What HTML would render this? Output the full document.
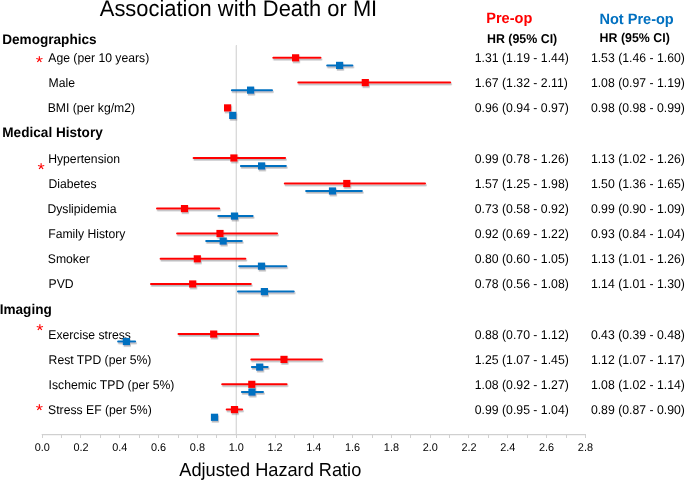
<!DOCTYPE html><html><head><meta charset="utf-8"><style>
html,body{margin:0;padding:0;background:#fff;width:685px;height:480px;overflow:hidden}
svg{display:block;font-family:"Liberation Sans",sans-serif;will-change:transform}svg text{text-rendering:geometricPrecision}
</style></head><body>
<svg width="685" height="480" viewBox="0 0 685 480">
<defs><filter id="sh" x="-50%" y="-50%" width="200%" height="200%"><feDropShadow dx="0.8" dy="1.6" stdDeviation="0.7" flood-color="#606468" flood-opacity="0.45"/></filter></defs>
<text transform="translate(99.80 16.00) scale(1 1.030)" font-size="21.90">Association with Death or MI</text>
<text transform="translate(486.20 23.20) scale(1 1.030)" font-size="14.55" font-weight="bold" fill="#ff0000">Pre-op</text>
<text transform="translate(599.40 24.20) scale(1 1.030)" font-size="14.55" font-weight="bold" fill="#0070c0">Not Pre-op</text>
<text transform="translate(487.00 43.20) scale(1 1.030)" font-size="12.40" font-weight="bold">HR (95% CI)</text>
<text transform="translate(599.60 42.20) scale(1 1.030)" font-size="12.40" font-weight="bold">HR (95% CI)</text>
<text transform="translate(2.20 43.90) scale(1 1.030)" font-size="13.60" font-weight="bold">Demographics</text>
<text transform="translate(2.30 136.60) scale(1 1.030)" font-size="13.60" font-weight="bold">Medical History</text>
<text transform="translate(-0.30 314.10) scale(1 1.030)" font-size="13.60" font-weight="bold">Imaging</text>
<line x1="235.5" y1="45.5" x2="235.5" y2="434" stroke="#f1f1f1" stroke-width="1"/>
<line x1="236.5" y1="45" x2="236.5" y2="434.5" stroke="#dadada" stroke-width="1"/>
<line x1="42.20" y1="435.5" x2="585.40" y2="435.5" stroke="#f4f4f4" stroke-width="1"/>
<line x1="41.70" y1="434.5" x2="585.90" y2="434.5" stroke="#d0d0d0" stroke-width="1"/>
<line x1="42.50" y1="434" x2="42.50" y2="438" stroke="#d0d0d0" stroke-width="1"/>
<line x1="61.50" y1="434" x2="61.50" y2="438" stroke="#d0d0d0" stroke-width="1"/>
<line x1="80.50" y1="434" x2="80.50" y2="438" stroke="#d0d0d0" stroke-width="1"/>
<line x1="100.50" y1="434" x2="100.50" y2="438" stroke="#d0d0d0" stroke-width="1"/>
<line x1="119.50" y1="434" x2="119.50" y2="438" stroke="#d0d0d0" stroke-width="1"/>
<line x1="139.50" y1="434" x2="139.50" y2="438" stroke="#d0d0d0" stroke-width="1"/>
<line x1="158.50" y1="434" x2="158.50" y2="438" stroke="#d0d0d0" stroke-width="1"/>
<line x1="178.50" y1="434" x2="178.50" y2="438" stroke="#d0d0d0" stroke-width="1"/>
<line x1="197.50" y1="434" x2="197.50" y2="438" stroke="#d0d0d0" stroke-width="1"/>
<line x1="216.50" y1="434" x2="216.50" y2="438" stroke="#d0d0d0" stroke-width="1"/>
<line x1="236.50" y1="434" x2="236.50" y2="438" stroke="#d0d0d0" stroke-width="1"/>
<line x1="255.50" y1="434" x2="255.50" y2="438" stroke="#d0d0d0" stroke-width="1"/>
<line x1="275.50" y1="434" x2="275.50" y2="438" stroke="#d0d0d0" stroke-width="1"/>
<line x1="294.50" y1="434" x2="294.50" y2="438" stroke="#d0d0d0" stroke-width="1"/>
<line x1="313.50" y1="434" x2="313.50" y2="438" stroke="#d0d0d0" stroke-width="1"/>
<line x1="333.50" y1="434" x2="333.50" y2="438" stroke="#d0d0d0" stroke-width="1"/>
<line x1="352.50" y1="434" x2="352.50" y2="438" stroke="#d0d0d0" stroke-width="1"/>
<line x1="372.50" y1="434" x2="372.50" y2="438" stroke="#d0d0d0" stroke-width="1"/>
<line x1="391.50" y1="434" x2="391.50" y2="438" stroke="#d0d0d0" stroke-width="1"/>
<line x1="410.50" y1="434" x2="410.50" y2="438" stroke="#d0d0d0" stroke-width="1"/>
<line x1="430.50" y1="434" x2="430.50" y2="438" stroke="#d0d0d0" stroke-width="1"/>
<line x1="449.50" y1="434" x2="449.50" y2="438" stroke="#d0d0d0" stroke-width="1"/>
<line x1="468.50" y1="434" x2="468.50" y2="438" stroke="#d0d0d0" stroke-width="1"/>
<line x1="488.50" y1="434" x2="488.50" y2="438" stroke="#d0d0d0" stroke-width="1"/>
<line x1="507.50" y1="434" x2="507.50" y2="438" stroke="#d0d0d0" stroke-width="1"/>
<line x1="527.50" y1="434" x2="527.50" y2="438" stroke="#d0d0d0" stroke-width="1"/>
<line x1="546.50" y1="434" x2="546.50" y2="438" stroke="#d0d0d0" stroke-width="1"/>
<line x1="566.50" y1="434" x2="566.50" y2="438" stroke="#d0d0d0" stroke-width="1"/>
<line x1="585.50" y1="434" x2="585.50" y2="438" stroke="#d0d0d0" stroke-width="1"/>
<text transform="translate(42.20 451.40) scale(1 1.030)" font-size="10.90" text-anchor="middle">0.0</text>
<text transform="translate(81.00 451.40) scale(1 1.030)" font-size="10.90" text-anchor="middle">0.2</text>
<text transform="translate(119.80 451.40) scale(1 1.030)" font-size="10.90" text-anchor="middle">0.4</text>
<text transform="translate(158.60 451.40) scale(1 1.030)" font-size="10.90" text-anchor="middle">0.6</text>
<text transform="translate(197.40 451.40) scale(1 1.030)" font-size="10.90" text-anchor="middle">0.8</text>
<text transform="translate(236.20 451.40) scale(1 1.030)" font-size="10.90" text-anchor="middle">1.0</text>
<text transform="translate(275.00 451.40) scale(1 1.030)" font-size="10.90" text-anchor="middle">1.2</text>
<text transform="translate(313.80 451.40) scale(1 1.030)" font-size="10.90" text-anchor="middle">1.4</text>
<text transform="translate(352.60 451.40) scale(1 1.030)" font-size="10.90" text-anchor="middle">1.6</text>
<text transform="translate(391.40 451.40) scale(1 1.030)" font-size="10.90" text-anchor="middle">1.8</text>
<text transform="translate(430.20 451.40) scale(1 1.030)" font-size="10.90" text-anchor="middle">2.0</text>
<text transform="translate(469.00 451.40) scale(1 1.030)" font-size="10.90" text-anchor="middle">2.2</text>
<text transform="translate(507.80 451.40) scale(1 1.030)" font-size="10.90" text-anchor="middle">2.4</text>
<text transform="translate(546.60 451.40) scale(1 1.030)" font-size="10.90" text-anchor="middle">2.6</text>
<text transform="translate(585.40 451.40) scale(1 1.030)" font-size="10.90" text-anchor="middle">2.8</text>
<text transform="translate(179.30 475.50) scale(1 1.030)" font-size="18.20">Adjusted Hazard Ratio</text>
<text transform="translate(48.30 61.90) scale(1 1.030)" font-size="12.20">Age (per 10 years)</text>
<text transform="translate(474.80 61.80) scale(1 1.035)" font-size="12.25">1.31 (1.19 - 1.44)</text>
<text transform="translate(590.90 61.80) scale(1 1.035)" font-size="12.25">1.53 (1.46 - 1.60)</text>
<text transform="translate(39.35 67.72) scale(1.09 1)" font-size="17" text-anchor="middle" fill="#ff0000">*</text>
<g filter="url(#sh)">
<rect x="272.30" y="56.85" width="49.20" height="2.00" rx="1" fill="#ff0000"/>
<rect x="292.00" y="54.25" width="7.20" height="7.20" fill="#ff0000"/>
</g>
<g filter="url(#sh)">
<rect x="326.20" y="64.40" width="27.20" height="2.00" rx="1" fill="#0070c0"/>
<rect x="336.00" y="61.80" width="7.20" height="7.20" fill="#0070c0"/>
</g>
<text transform="translate(48.60 87.04) scale(1 1.030)" font-size="12.20">Male</text>
<text transform="translate(474.80 86.74) scale(1 1.035)" font-size="12.25">1.67 (1.32 - 2.11)</text>
<text transform="translate(590.90 86.74) scale(1 1.035)" font-size="12.25">1.08 (0.97 - 1.19)</text>
<g filter="url(#sh)">
<rect x="297.30" y="81.60" width="153.90" height="2.00" rx="1" fill="#ff0000"/>
<rect x="361.70" y="79.00" width="7.20" height="7.20" fill="#ff0000"/>
</g>
<g filter="url(#sh)">
<rect x="230.90" y="89.15" width="42.10" height="2.00" rx="1" fill="#0070c0"/>
<rect x="247.00" y="86.55" width="7.20" height="7.20" fill="#0070c0"/>
</g>
<text transform="translate(47.70 112.18) scale(1 1.030)" font-size="12.20">BMI (per kg/m2)</text>
<text transform="translate(474.80 111.88) scale(1 1.035)" font-size="12.25">0.96 (0.94 - 0.97)</text>
<text transform="translate(590.90 111.88) scale(1 1.035)" font-size="12.25">0.98 (0.98 - 0.99)</text>
<g filter="url(#sh)">
<rect x="224.00" y="104.30" width="7.20" height="7.20" fill="#ff0000"/>
</g>
<g filter="url(#sh)">
<rect x="229.15" y="111.80" width="7.20" height="7.20" fill="#0070c0"/>
</g>
<text transform="translate(48.20 162.96) scale(1 1.030)" font-size="12.20">Hypertension</text>
<text transform="translate(474.80 162.76) scale(1 1.035)" font-size="12.25">0.99 (0.78 - 1.26)</text>
<text transform="translate(590.90 162.76) scale(1 1.035)" font-size="12.25">1.13 (1.02 - 1.26)</text>
<text transform="translate(41.10 174.72) scale(1.09 1)" font-size="17" text-anchor="middle" fill="#ff0000">*</text>
<g filter="url(#sh)">
<rect x="192.60" y="157.00" width="93.50" height="2.00" rx="1" fill="#ff0000"/>
<rect x="230.30" y="154.40" width="7.20" height="7.20" fill="#ff0000"/>
</g>
<g filter="url(#sh)">
<rect x="239.90" y="164.95" width="47.00" height="2.00" rx="1" fill="#0070c0"/>
<rect x="258.00" y="162.35" width="7.20" height="7.20" fill="#0070c0"/>
</g>
<text transform="translate(48.40 187.60) scale(1 1.030)" font-size="12.20">Diabetes</text>
<text transform="translate(474.80 187.70) scale(1 1.035)" font-size="12.25">1.57 (1.25 - 1.98)</text>
<text transform="translate(590.90 187.70) scale(1 1.035)" font-size="12.25">1.50 (1.36 - 1.65)</text>
<g filter="url(#sh)">
<rect x="283.80" y="182.50" width="142.20" height="2.00" rx="1" fill="#ff0000"/>
<rect x="343.20" y="179.90" width="7.20" height="7.20" fill="#ff0000"/>
</g>
<g filter="url(#sh)">
<rect x="305.10" y="190.00" width="57.80" height="2.00" rx="1" fill="#0070c0"/>
<rect x="328.90" y="187.40" width="7.20" height="7.20" fill="#0070c0"/>
</g>
<text transform="translate(47.40 212.74) scale(1 1.030)" font-size="12.20">Dyslipidemia</text>
<text transform="translate(474.80 212.94) scale(1 1.035)" font-size="12.25">0.73 (0.58 - 0.92)</text>
<text transform="translate(590.90 212.94) scale(1 1.035)" font-size="12.25">0.99 (0.90 - 1.09)</text>
<g filter="url(#sh)">
<rect x="156.00" y="207.60" width="64.20" height="2.00" rx="1" fill="#ff0000"/>
<rect x="180.90" y="205.00" width="7.20" height="7.20" fill="#ff0000"/>
</g>
<g filter="url(#sh)">
<rect x="217.30" y="215.10" width="36.30" height="2.00" rx="1" fill="#0070c0"/>
<rect x="230.90" y="212.50" width="7.20" height="7.20" fill="#0070c0"/>
</g>
<text transform="translate(48.20 237.88) scale(1 1.030)" font-size="12.20">Family History</text>
<text transform="translate(474.80 237.78) scale(1 1.035)" font-size="12.25">0.92 (0.69 - 1.22)</text>
<text transform="translate(590.90 237.78) scale(1 1.035)" font-size="12.25">0.93 (0.84 - 1.04)</text>
<g filter="url(#sh)">
<rect x="176.10" y="232.50" width="101.90" height="2.00" rx="1" fill="#ff0000"/>
<rect x="216.40" y="229.90" width="7.20" height="7.20" fill="#ff0000"/>
</g>
<g filter="url(#sh)">
<rect x="205.20" y="240.10" width="37.60" height="2.00" rx="1" fill="#0070c0"/>
<rect x="219.60" y="237.50" width="7.20" height="7.20" fill="#0070c0"/>
</g>
<text transform="translate(47.80 263.02) scale(1 1.030)" font-size="12.20">Smoker</text>
<text transform="translate(474.80 262.92) scale(1 1.035)" font-size="12.25">0.80 (0.60 - 1.05)</text>
<text transform="translate(590.90 262.92) scale(1 1.035)" font-size="12.25">1.13 (1.01 - 1.26)</text>
<g filter="url(#sh)">
<rect x="159.60" y="257.85" width="86.80" height="2.00" rx="1" fill="#ff0000"/>
<rect x="193.70" y="255.25" width="7.20" height="7.20" fill="#ff0000"/>
</g>
<g filter="url(#sh)">
<rect x="238.20" y="265.20" width="49.10" height="2.00" rx="1" fill="#0070c0"/>
<rect x="257.90" y="262.60" width="7.20" height="7.20" fill="#0070c0"/>
</g>
<text transform="translate(48.60 288.16) scale(1 1.030)" font-size="12.20">PVD</text>
<text transform="translate(474.80 288.06) scale(1 1.035)" font-size="12.25">0.78 (0.56 - 1.08)</text>
<text transform="translate(590.90 288.06) scale(1 1.035)" font-size="12.25">1.14 (1.01 - 1.30)</text>
<g filter="url(#sh)">
<rect x="150.00" y="283.00" width="101.80" height="2.00" rx="1" fill="#ff0000"/>
<rect x="189.10" y="280.40" width="7.20" height="7.20" fill="#ff0000"/>
</g>
<g filter="url(#sh)">
<rect x="237.00" y="290.60" width="57.70" height="2.00" rx="1" fill="#0070c0"/>
<rect x="260.80" y="288.00" width="7.20" height="7.20" fill="#0070c0"/>
</g>
<text transform="translate(48.30 339.24) scale(1 1.030)" font-size="12.20">Exercise stress</text>
<text transform="translate(474.80 338.94) scale(1 1.035)" font-size="12.25">0.88 (0.70 - 1.12)</text>
<text transform="translate(590.90 338.94) scale(1 1.035)" font-size="12.25">0.43 (0.39 - 0.48)</text>
<text transform="translate(39.80 335.92) scale(1.09 1)" font-size="17" text-anchor="middle" fill="#ff0000">*</text>
<g filter="url(#sh)">
<rect x="177.50" y="333.10" width="81.60" height="2.00" rx="1" fill="#ff0000"/>
<rect x="210.10" y="330.50" width="7.20" height="7.20" fill="#ff0000"/>
</g>
<g filter="url(#sh)">
<rect x="117.15" y="340.50" width="18.95" height="2.00" rx="1" fill="#0070c0"/>
<rect x="122.80" y="337.90" width="7.20" height="7.20" fill="#0070c0"/>
</g>
<text transform="translate(48.60 363.58) scale(1 1.030)" font-size="12.20">Rest TPD (per 5%)</text>
<text transform="translate(474.80 363.88) scale(1 1.035)" font-size="12.25">1.25 (1.07 - 1.45)</text>
<text transform="translate(590.90 363.88) scale(1 1.035)" font-size="12.25">1.12 (1.07 - 1.17)</text>
<g filter="url(#sh)">
<rect x="250.30" y="358.40" width="72.50" height="2.00" rx="1" fill="#ff0000"/>
<rect x="280.40" y="355.80" width="7.20" height="7.20" fill="#ff0000"/>
</g>
<g filter="url(#sh)">
<rect x="250.90" y="366.10" width="17.80" height="2.00" rx="1" fill="#0070c0"/>
<rect x="256.10" y="363.50" width="7.20" height="7.20" fill="#0070c0"/>
</g>
<text transform="translate(48.60 388.72) scale(1 1.030)" font-size="12.20">Ischemic TPD (per 5%)</text>
<text transform="translate(474.80 389.02) scale(1 1.035)" font-size="12.25">1.08 (0.92 - 1.27)</text>
<text transform="translate(590.90 389.02) scale(1 1.035)" font-size="12.25">1.08 (1.02 - 1.14)</text>
<g filter="url(#sh)">
<rect x="221.20" y="383.35" width="66.40" height="2.00" rx="1" fill="#ff0000"/>
<rect x="248.20" y="380.75" width="7.20" height="7.20" fill="#ff0000"/>
</g>
<g filter="url(#sh)">
<rect x="240.90" y="391.10" width="23.10" height="2.00" rx="1" fill="#0070c0"/>
<rect x="248.40" y="388.50" width="7.20" height="7.20" fill="#0070c0"/>
</g>
<text transform="translate(48.10 413.86) scale(1 1.030)" font-size="12.20">Stress EF (per 5%)</text>
<text transform="translate(474.80 413.73) scale(1 1.035)" font-size="12.25">0.99 (0.95 - 1.04)</text>
<text transform="translate(590.90 413.73) scale(1 1.035)" font-size="12.25">0.89 (0.87 - 0.90)</text>
<text transform="translate(39.40 416.22) scale(1.09 1)" font-size="17" text-anchor="middle" fill="#ff0000">*</text>
<g filter="url(#sh)">
<rect x="225.70" y="408.60" width="17.40" height="2.00" rx="1" fill="#ff0000"/>
<rect x="230.90" y="406.00" width="7.20" height="7.20" fill="#ff0000"/>
</g>
<g filter="url(#sh)">
<rect x="210.90" y="413.70" width="7.20" height="7.20" fill="#0070c0"/>
</g>
</svg></body></html>
